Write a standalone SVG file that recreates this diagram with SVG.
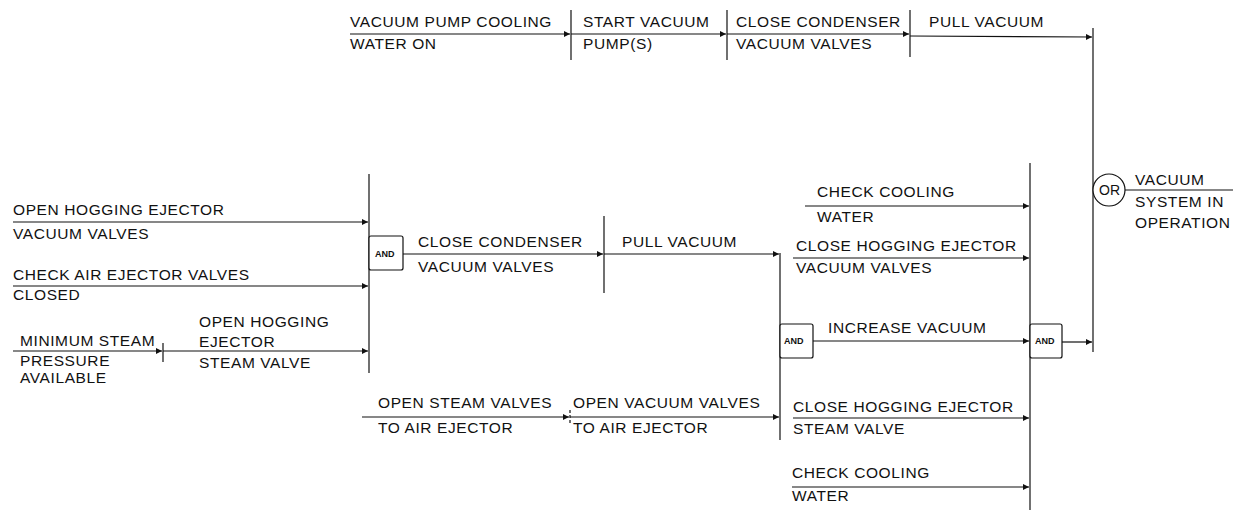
<svg xmlns="http://www.w3.org/2000/svg" width="1233" height="513" viewBox="0 0 1233 513">
<style>
text{font-family:"Liberation Sans",Arial,sans-serif;font-size:15.5px;letter-spacing:0.6px;fill:#111}
.g{font-size:9px;letter-spacing:0;font-weight:bold}
.or{font-size:14px;letter-spacing:0}
line,path,rect,circle{stroke:#111;stroke-width:1.2;fill:none}
.a{marker-end:url(#ah)}
</style>
<defs>
<marker id="ah" viewBox="0 0 10 10" refX="10" refY="5" markerWidth="8" markerHeight="6" markerUnits="userSpaceOnUse" orient="auto">
<path d="M0,0 L10,5 L0,10 z" style="fill:#111;stroke:none"/>
</marker>
</defs>
<rect x="0" y="0" width="1233" height="513" style="fill:#fff;stroke:none"/>

<g id="connectors">
<line class="a" x1="350" y1="34" x2="570" y2="34"/>
<line class="a" x1="571" y1="34" x2="726" y2="34"/>
<line class="a" x1="727" y1="34" x2="909" y2="34"/>
<line class="a" x1="910" y1="36" x2="1092" y2="37"/>
<line x1="571" y1="10" x2="571" y2="60"/>
<line x1="727" y1="10" x2="727" y2="60"/>
<line x1="910" y1="10" x2="910" y2="57"/>
<line x1="1093" y1="28" x2="1093" y2="352"/>
<line class="a" x1="13" y1="222" x2="368" y2="222"/>
<line class="a" x1="13" y1="286" x2="368" y2="286"/>
<line class="a" x1="13" y1="351" x2="162" y2="351"/>
<line class="a" x1="163" y1="351" x2="368" y2="351"/>
<line x1="163" y1="343" x2="163" y2="362"/>
<line x1="369" y1="174" x2="369" y2="373"/>
<line class="a" x1="403" y1="254" x2="603" y2="254"/>
<line x1="604" y1="216" x2="604" y2="293"/>
<line class="a" x1="604" y1="254" x2="779" y2="254"/>
<line class="a" x1="362" y1="417" x2="569" y2="417"/>
<line x1="570" y1="410" x2="570" y2="425" style="stroke-dasharray:3 2"/>
<line class="a" x1="570" y1="417" x2="779" y2="417"/>
<line x1="780" y1="253" x2="780" y2="440"/>
<line class="a" x1="805" y1="206" x2="1029" y2="206"/>
<line class="a" x1="793" y1="258" x2="1029" y2="258"/>
<line class="a" x1="812" y1="341" x2="1029" y2="341"/>
<line class="a" x1="793" y1="418" x2="1029" y2="418"/>
<line class="a" x1="792" y1="487" x2="1029" y2="487"/>
<line x1="1030" y1="163" x2="1030" y2="510"/>
<line class="a" x1="1062" y1="342" x2="1092" y2="342"/>
<line x1="1125" y1="190" x2="1233" y2="190"/>
</g>

<g id="n-vac-pump-cooling"><text x="350" y="27">VACUUM PUMP COOLING</text><text x="350" y="49">WATER ON</text></g>
<g id="n-start-vacuum"><text x="583" y="27">START VACUUM</text><text x="583" y="49">PUMP(S)</text></g>
<g id="n-close-cond-top"><text x="736" y="27">CLOSE CONDENSER</text><text x="736" y="49">VACUUM VALVES</text></g>
<g id="n-pull-vacuum-top"><text x="929" y="27">PULL VACUUM</text></g>

<g id="n-open-hogging-vac"><text x="13" y="215">OPEN HOGGING EJECTOR</text><text x="13" y="239">VACUUM VALVES</text></g>
<g id="n-check-air"><text x="13" y="280">CHECK AIR EJECTOR VALVES</text><text x="13" y="300">CLOSED</text></g>
<g id="n-min-steam"><text x="20" y="346">MINIMUM STEAM</text><text x="20" y="366">PRESSURE</text><text x="20" y="383">AVAILABLE</text></g>
<g id="n-open-hogging-steam"><text x="199" y="327">OPEN HOGGING</text><text x="199" y="347">EJECTOR</text><text x="199" y="368">STEAM VALVE</text></g>

<g id="and1"><rect x="369" y="236" width="34" height="34" rx="2" style="fill:#fff"/><text class="g" x="375" y="257">AND</text></g>
<g id="n-close-cond-mid"><text x="418" y="247">CLOSE CONDENSER</text><text x="418" y="272">VACUUM VALVES</text></g>
<g id="n-pull-vacuum-mid"><text x="622" y="247">PULL VACUUM</text></g>
<g id="n-open-steam"><text x="378" y="408">OPEN STEAM VALVES</text><text x="378" y="433">TO AIR EJECTOR</text></g>
<g id="n-open-vac-valves"><text x="573" y="408">OPEN VACUUM VALVES</text><text x="573" y="433">TO AIR EJECTOR</text></g>

<g id="and2"><rect x="780" y="324" width="33" height="34" rx="2" style="fill:#fff"/><text class="g" x="784" y="344">AND</text></g>
<g id="n-check-cooling-1"><text x="817" y="197">CHECK COOLING</text><text x="817" y="222">WATER</text></g>
<g id="n-close-hog-vac"><text x="796" y="251">CLOSE HOGGING EJECTOR</text><text x="796" y="273">VACUUM VALVES</text></g>
<g id="n-increase-vacuum"><text x="828" y="333">INCREASE VACUUM</text></g>
<g id="n-close-hog-steam"><text x="793" y="412">CLOSE HOGGING EJECTOR</text><text x="793" y="434">STEAM VALVE</text></g>
<g id="n-check-cooling-2"><text x="792" y="478">CHECK COOLING</text><text x="792" y="501">WATER</text></g>

<g id="and3"><rect x="1030" y="324" width="32" height="34" rx="2" style="fill:#fff"/><text class="g" x="1035" y="344">AND</text></g>
<g id="or1"><circle cx="1109" cy="190" r="16" style="fill:#fff"/><text class="or" x="1099" y="195">OR</text></g>
<g id="n-vacuum-system"><text x="1135" y="185">VACUUM</text><text x="1135" y="207">SYSTEM IN</text><text x="1135" y="228">OPERATION</text></g>
</svg>
